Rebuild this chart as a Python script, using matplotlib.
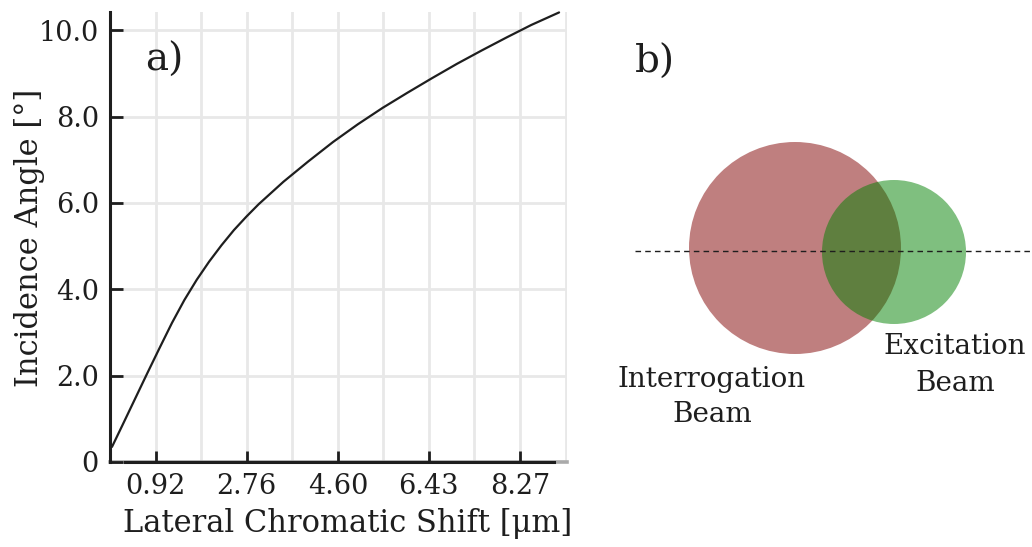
import matplotlib
matplotlib.use("Agg")
import matplotlib.pyplot as plt
from matplotlib.patches import Circle

plt.rcParams["font.family"] = ["DejaVu Serif"]

# Incidence angle versus lateral chromatic shift
shift_um = [0.04, 0.25, 0.50, 0.75, 1.00, 1.25, 1.50, 1.75, 2.00, 2.25, 2.50,
            2.75, 3.00, 3.25, 3.50, 4.00, 4.50, 5.00, 5.50, 6.00, 6.50, 7.00,
            7.50, 8.00, 8.50, 9.06]
angle_deg = [0.35, 0.85, 1.45, 2.05, 2.64, 3.22, 3.75, 4.22, 4.64, 5.02, 5.37,
             5.68, 5.97, 6.23, 6.49, 6.96, 7.41, 7.82, 8.20, 8.55, 8.89, 9.22,
             9.53, 9.83, 10.12, 10.41]

x_ticks = [0.92, 2.76, 4.60, 6.43, 8.27]
x_tick_labels = ["0.92", "2.76", "4.60", "6.43", "8.27"]
x_grid = [0.919 * k for k in range(1, 11)]
y_ticks = [0, 2, 4, 6, 8, 10]
y_tick_labels = ["0", "2.0", "4.0", "6.0", "8.0", "10.0"]

# Beam cross-sections (diagram units = pixels)
interrogation_center = (795, 248)
interrogation_radius = 106
excitation_center = (894, 252)
excitation_radius = 72
axis_y = 251

W, H = 1032, 547
INK = "#1e1e1e"
fig = plt.figure(figsize=(W / 100, H / 100), dpi=100)

# ---- panel a ----
ax = fig.add_axes([110 / W, 1 - 462 / H, (567 - 110) / W, (462 - 12) / H])
ax.set_xlim(0, 9.22)
ax.set_ylim(0, 10.42)
for gx in x_grid:
    ax.axvline(gx, color="#e8e8e8", lw=2.0, zorder=0)
for gy in y_ticks[1:]:
    ax.axhline(gy, color="#e8e8e8", lw=2.0, zorder=0)

ax.plot(shift_um, angle_deg, color=INK, lw=1.6, zorder=3, clip_on=False,
        solid_joinstyle="round", solid_capstyle="round")

ax.set_xticks(x_ticks)
ax.set_xticklabels(x_tick_labels)
ax.set_yticks(y_ticks)
ax.set_yticklabels(y_tick_labels)
ax.tick_params(axis="x", direction="in", length=8, width=2.0, labelsize=19.5, pad=8,
               colors=INK)
ax.tick_params(axis="y", direction="in", length=9, width=2.0, labelsize=19.5, pad=8,
               colors=INK)

for side in ("top", "right"):
    ax.spines[side].set_visible(False)
ax.spines["left"].set_linewidth(2.2)
ax.spines["left"].set_color(INK)
ax.spines["bottom"].set_linewidth(2.2)
ax.spines["bottom"].set_color(INK)
ax.spines["bottom"].set_bounds(0.3, 8.95)
ax.plot([0, 9.22], [0, 0], color="#aaaaaa", lw=2.6, zorder=1, clip_on=False)

ax.set_xlabel("Lateral Chromatic Shift [μm]", fontsize=22, color=INK)
ax.xaxis.set_label_coords(0.52, -0.102)
ax.set_ylabel("Incidence Angle [°]", fontsize=22, color=INK)
ax.yaxis.set_label_coords(-0.142, 0.498)
ax.text(0.077, 0.893, "a)", transform=ax.transAxes, fontsize=28, va="center",
        color=INK)

# ---- panel b ----
bx = fig.add_axes([600 / W, 0, (W - 600) / W, 1])
bx.set_xlim(600, W)
bx.set_ylim(H, 0)
bx.axis("off")
bx.add_patch(Circle(interrogation_center, interrogation_radius,
                    facecolor="#800000", alpha=0.5, edgecolor="none"))
bx.add_patch(Circle(excitation_center, excitation_radius,
                    facecolor="#008000", alpha=0.5, edgecolor="none"))
bx.plot([635, W], [axis_y, axis_y], color=INK, lw=1.0,
        linestyle=(0, (4, 3)))
bx.text(635, 62, "b)", fontsize=28, va="center", ha="left", color=INK)
bx.text(712, 397, "Interrogation\nBeam", fontsize=20, ha="center", va="center",
        linespacing=1.38, color=INK)
bx.text(955, 365, "Excitation\nBeam", fontsize=20, ha="center", va="center",
        linespacing=1.48, color=INK)

fig.savefig("out.png", dpi=100)
